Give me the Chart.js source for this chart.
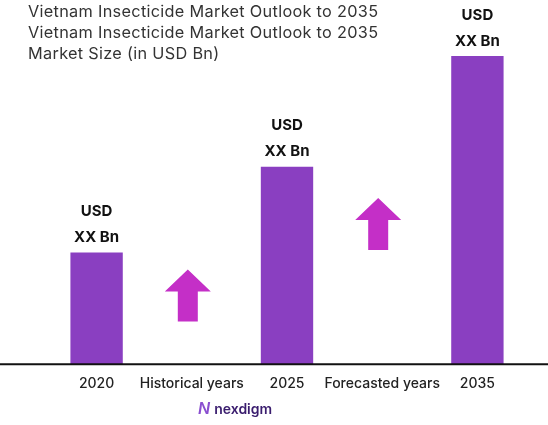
<!DOCTYPE html>
<html>
<head>
<meta charset="utf-8">
<script src="https://cdn.jsdelivr.net/npm/chart.js@4"></script>
<style>
  body { margin: 0; background: #fff; font-family: Inter, "Noto Sans", sans-serif; }
  #wrap { position: relative; width: 548px; height: 425px; }
  #titles { position: absolute; left: 28px; top: 1px; color: #333; font-size: 16.3px; line-height: 21px; letter-spacing: 0.3px; }
  #logo { position: absolute; left: 198px; top: 398px; font-size: 14px; font-weight: 600; color: #3a1d6e; }
  #logo span { color: #8a4fd0; font-style: italic; margin-right: 4px; font-size: 16px; }
</style>
</head>
<body>
<div id="wrap">
  <canvas id="chart" width="548" height="425"></canvas>
  <div id="titles">Vietnam Insecticide Market Outlook to 2035<br>Vietnam Insecticide Market Outlook to 2035<br>Market Size (in USD Bn)</div>
  <div id="logo"><span>N</span>nexdigm</div>
</div>
<script>
// Data
const categories = ['2020', 'Historical years', '2025', 'Forecasted years', '2035'];
const marketSize = [1.09, null, 1.93, null, 3.01];
const barLabels = ['USD', 'XX Bn'];
const arrowLevels = [null, 0.67, null, 1.37, null];

const barColor = '#8a3fc1';
const arrowColor = '#c42fc7';

const decorations = {
  id: 'decorations',
  afterDatasetsDraw(chart) {
    const c = chart.ctx;
    const meta = chart.getDatasetMeta(0);
    const x = chart.scales.x, y = chart.scales.y;
    // bar value labels
    c.save();
    c.fillStyle = '#111';
    c.font = 'bold 15px Inter, sans-serif';
    c.textAlign = 'center';
    c.textBaseline = 'middle';
    meta.data.forEach((bar, i) => {
      if (marketSize[i] == null) return;
      c.fillText(barLabels[0], bar.x, bar.y - 41);
      c.fillText(barLabels[1], bar.x, bar.y - 15);
    });
    // arrows
    c.fillStyle = arrowColor;
    arrowLevels.forEach((v, i) => {
      if (v == null) return;
      const cx = x.getPixelForValue(i) - 4;
      const cy = y.getPixelForValue(v);
      c.beginPath();
      c.moveTo(cx, cy - 26);
      c.lineTo(cx + 23, cy - 4);
      c.lineTo(cx + 10, cy - 4);
      c.lineTo(cx + 10, cy + 26);
      c.lineTo(cx - 10, cy + 26);
      c.lineTo(cx - 10, cy - 4);
      c.lineTo(cx - 23, cy - 4);
      c.closePath();
      c.fill();
    });
    // baseline
    c.strokeStyle = '#111';
    c.lineWidth = 2;
    c.beginPath();
    c.moveTo(0, y.getPixelForValue(0));
    c.lineTo(548, y.getPixelForValue(0));
    c.stroke();
    c.restore();
  }
};

new Chart(document.getElementById('chart'), {
  type: 'bar',
  data: {
    labels: categories,
    datasets: [{
      data: marketSize,
      backgroundColor: barColor,
      barPercentage: 0.55,
      categoryPercentage: 1
    }]
  },
  options: {
    responsive: false,
    animation: false,
    layout: { padding: { top: 10, left: 49, right: 23, bottom: 30 } },
    plugins: { legend: { display: false }, tooltip: { enabled: false } },
    scales: {
      x: {
        grid: { display: false },
        border: { display: false },
        ticks: { color: '#222', font: { size: 14, family: 'Inter', weight: 500 }, padding: 3, maxRotation: 0, autoSkip: false }
      },
      y: { display: false, min: 0, max: 3.46 }
    }
  },
  plugins: [decorations]
});
</script>
</body>
</html>
